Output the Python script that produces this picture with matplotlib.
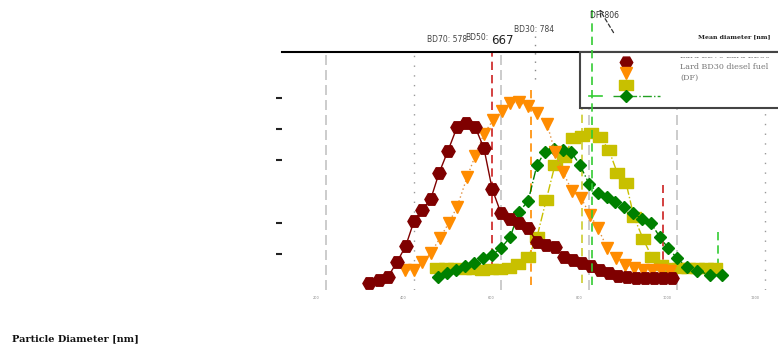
import matplotlib
matplotlib.use("Agg")
import matplotlib.pyplot as plt
from matplotlib.patches import Rectangle
from matplotlib.transforms import Bbox, TransformedBbox, ScaledTranslation

W, H = 778, 345

# particle diameter [nm] vs. size distribution (arbitrary units)
bd70_x = [298, 321, 341, 362, 382, 401, 419, 439, 458, 478, 499, 519, 540, 560,
          579, 599, 620, 640, 661, 681, 702, 722, 743, 763, 784, 804, 825, 845,
          866, 886, 907, 927, 948, 969, 989]
bd70_y = [0.07, 0.17, 0.26, 0.74, 1.26, 2.06, 2.41, 2.76, 3.60, 4.30, 5.07, 5.20,
          5.07, 4.40, 3.08, 2.31, 2.12, 1.99, 1.83, 1.38, 1.29, 1.22, 0.90, 0.81,
          0.71, 0.62, 0.49, 0.39, 0.29, 0.26, 0.23, 0.23, 0.23, 0.23, 0.23]

bd50_x = [380, 401, 419, 439, 460, 480, 499, 522, 540, 560, 581, 601, 620, 640,
          661, 681, 704, 722, 740, 761, 782, 802, 820, 841, 861, 882, 902, 923,
          943, 964, 984]
bd50_y = [0.49, 0.49, 0.74, 1.03, 1.51, 1.99, 2.51, 3.47, 4.14, 4.85, 5.29, 5.58,
          5.84, 5.87, 5.74, 5.52, 5.17, 4.27, 3.63, 3.02, 2.79, 2.25, 1.83, 1.19,
          0.87, 0.65, 0.55, 0.49, 0.49, 0.49, 0.46]

bd30_x = [453, 474, 494, 515, 535, 556, 576, 597, 617, 638, 661, 681, 702, 722,
          743, 763, 784, 804, 825, 845, 864, 884, 902, 923, 943, 964, 984, 1005,
          1025, 1046, 1066, 1087]
bd30_y = [0.55, 0.55, 0.55, 0.52, 0.52, 0.49, 0.52, 0.52, 0.55, 0.68, 0.90, 1.54,
          2.73, 3.85, 4.11, 4.72, 4.78, 4.88, 4.75, 4.33, 3.60, 3.28, 2.19, 1.48,
          0.90, 0.65, 0.55, 0.55, 0.55, 0.55, 0.55, 0.55]

df_x = [455, 476, 496, 517, 537, 558, 579, 599, 620, 640, 661, 681, 699, 720,
        740, 759, 779, 800, 820, 841, 859, 880, 900, 921, 941, 961, 980, 1000,
        1023, 1046, 1076, 1103]
df_y = [0.26, 0.39, 0.49, 0.62, 0.71, 0.87, 0.97, 1.19, 1.54, 2.35, 2.70, 3.85,
        4.27, 4.37, 4.33, 4.27, 3.85, 3.24, 2.96, 2.83, 2.67, 2.51, 2.31, 2.12,
        1.99, 1.54, 1.19, 0.87, 0.58, 0.46, 0.33, 0.33]

fuels = ["BD70", "BD50", "BD30", "DF"]
mean_diam = [578, 667, 784, 806]
mean_lo = [0.49, 0.01, 0.07, 0.01]
mean_hi = [7.47, 6.32, 7.47, 8.82]
extra_x = [969, 1094]
extra_lo = [0.39, 0.58]
extra_hi = [3.21, 1.77]
legend_names = ["Lard BD70", "Lard BD50", "Lard BD30", "diesel fuel", "(DF)"]
xtick_vals = [200, 400, 600, 800, 1000, 1200]


def fx(px):
    return px / W


def fy(py):
    return 1 - py / H


fig = plt.figure(figsize=(W / 100, H / 100), dpi=100)
ax = fig.add_axes([fx(282), fy(290), fx(820) - fx(282), fy(52) - fy(290)])
ax.set_xlim(100, 1326)
ax.set_ylim(-0.154, 7.474)

# grid-like verticals
ax.vlines([200, 600, 800, 1000], -0.154, 7.474, colors="#c4c4c4", lw=1.2,
          linestyles=(0, (6, 3)), zorder=1)
ax.vlines([400, 1200], -0.154, 7.474, colors="#999999", lw=1,
          linestyles=(0, (1, 6)), zorder=1)

rect = [(-1.3, -1), (1.3, -1), (1.3, 1), (-1.3, 1), (-1.3, -1)]
ax.plot(bd30_x, bd30_y, color="#c8c000", ls="-.", lw=1, marker=rect, ms=10,
        mec="#c8c000", zorder=3)
ax.plot(df_x, df_y, color="#008000", ls="-.", lw=1, marker="D", ms=6.5,
        mec="#008000", zorder=3.2)
ax.plot(bd50_x, bd50_y, color="#e09040", ls=(0, (1, 2)), lw=1, marker="v",
        ms=9, mfc="#ff8c00", mec="#ff8c00", zorder=3.4)
ax.plot(bd70_x, bd70_y, color="#7f0000", lw=1, marker="H", ms=9.5,
        mec="#7f0000", zorder=3.6)

# mean diameter lines
line_cols = ["#cc2020", "#ff8c00", "#cccc30", "#33cc33"]
for i in range(4):
    ax.vlines(mean_diam[i], mean_lo[i], mean_hi[i], colors=line_cols[i], lw=1.2,
              linestyles=(0, (5, 3)), clip_on=False, zorder=7 if i == 3 else 2)
ax.vlines(extra_x[0], extra_lo[0], extra_hi[0], colors="#cc2020", lw=1.2,
          linestyles=(0, (5, 3)), zorder=2)
ax.vlines(extra_x[1], extra_lo[1], extra_hi[1], colors="#33cc33", lw=1.2,
          linestyles=(0, (5, 3)), zorder=2)

# axes styling
for s in ["left", "right", "bottom"]:
    ax.spines[s].set_visible(False)
ax.spines["top"].set_linewidth(1.5)
ax.set_yticks([1, 2, 4, 5, 6])
ax.set_yticklabels([])
ax.tick_params(axis="y", direction="out", length=4, width=1.5, color="#222222")
ax.set_xticks(xtick_vals)
ax.set_xticklabels([str(v) for v in xtick_vals], fontsize=2.5, color="#888888")
ax.tick_params(axis="x", length=0, pad=4)
ax.set_xticks([200, 600, 800, 1000], minor=True)
ax.tick_params(axis="x", which="minor", direction="in", length=5, width=1.5,
               color="#222222")
for lab in ax.get_xticklabels():
    lab.set_transform(lab.get_transform() + ScaledTranslation(-0.1, 0, fig.dpi_scale_trans))

# legend box drawn by hand
tf = fig.transFigure
ax.add_patch(Rectangle((fx(580), fy(108)), fx(800) - fx(580), fy(52) - fy(108),
                       transform=tf, facecolor="white", edgecolor="#444444",
                       lw=1.5, clip_on=False, zorder=5))
ax.plot([fx(626)], [fy(62)], transform=tf, marker="H", ms=9, color="#7f0000",
        clip_on=False, zorder=6)
ax.plot([fx(626)], [fy(73)], transform=tf, marker="v", ms=9, color="#ff8c00",
        clip_on=False, zorder=6)
ax.plot([fx(626)], [fy(85)], transform=tf, marker=rect, ms=10, color="#c8c000",
        clip_on=False, zorder=6)
ax.plot([fx(613), fx(660)], [fy(96), fy(96)], transform=tf, color="#22a022",
        ls="-.", lw=1, clip_on=False, zorder=6)
ax.plot([fx(626)], [fy(96)], transform=tf, marker="D", ms=6.5, color="#008000",
        clip_on=False, zorder=6)
ax.plot([fx(589), fx(602)], [fy(96), fy(96)], transform=tf, color="#33cc33",
        lw=1.2, clip_on=False, zorder=6)

leg_text = (f"{legend_names[0]} {legend_names[1]}\n"
            f"{legend_names[2]} {legend_names[3]}\n{legend_names[4]}")
t = ax.text(fx(680), fy(52.5), leg_text, transform=tf, ha="left", va="top",
            fontsize=5.8, family="DejaVu Serif", color="#777777",
            linespacing=1.45, zorder=6)
t.set_clip_box(TransformedBbox(Bbox([[fx(580), fy(108)], [fx(800), fy(57)]]), tf))
t.set_clip_on(True)

fig.text(fx(698), fy(37), "Mean diameter [nm]", ha="left", va="center",
         fontsize=4.5, family="DejaVu Serif", weight="bold", color="#222222")

# mean diameter labels
fig.text(fx(427), fy(40), f"{fuels[0]}: {mean_diam[0]}", ha="left", va="center",
         fontsize=5.5, color="#444444")
fig.text(fx(465), fy(37), f"{fuels[1]}:", ha="left", va="center",
         fontsize=5.5, color="#444444")
fig.text(fx(491), fy(41), f"{mean_diam[1]}", ha="left", va="center",
         fontsize=8.5, color="#222222")
fig.text(fx(514), fy(29), f"{fuels[2]}: {mean_diam[2]}", ha="left", va="center",
         fontsize=5.5, color="#444444")
fig.text(fx(590), fy(16), f"{fuels[3]}: {mean_diam[3]}", ha="left", va="center",
         fontsize=5.5, color="#333333")
ax.plot([fx(535), fx(535)], [fy(36), fy(80)], transform=tf, color="#888888",
        ls=(0, (1, 5)), lw=1, clip_on=False, zorder=2)
ax.annotate("", xy=(fx(598), fy(7)), xytext=(fx(615), fy(35)),
            xycoords="figure fraction", textcoords="figure fraction",
            arrowprops=dict(arrowstyle="->", color="#333333", lw=0.9,
                            linestyle=(0, (3, 2))))

fig.text(fx(12), fy(339), "Particle Diameter [nm]", ha="left", va="center",
         fontsize=7, family="DejaVu Serif", weight="bold", color="#111111")

fig.savefig("out.png", dpi=100)
